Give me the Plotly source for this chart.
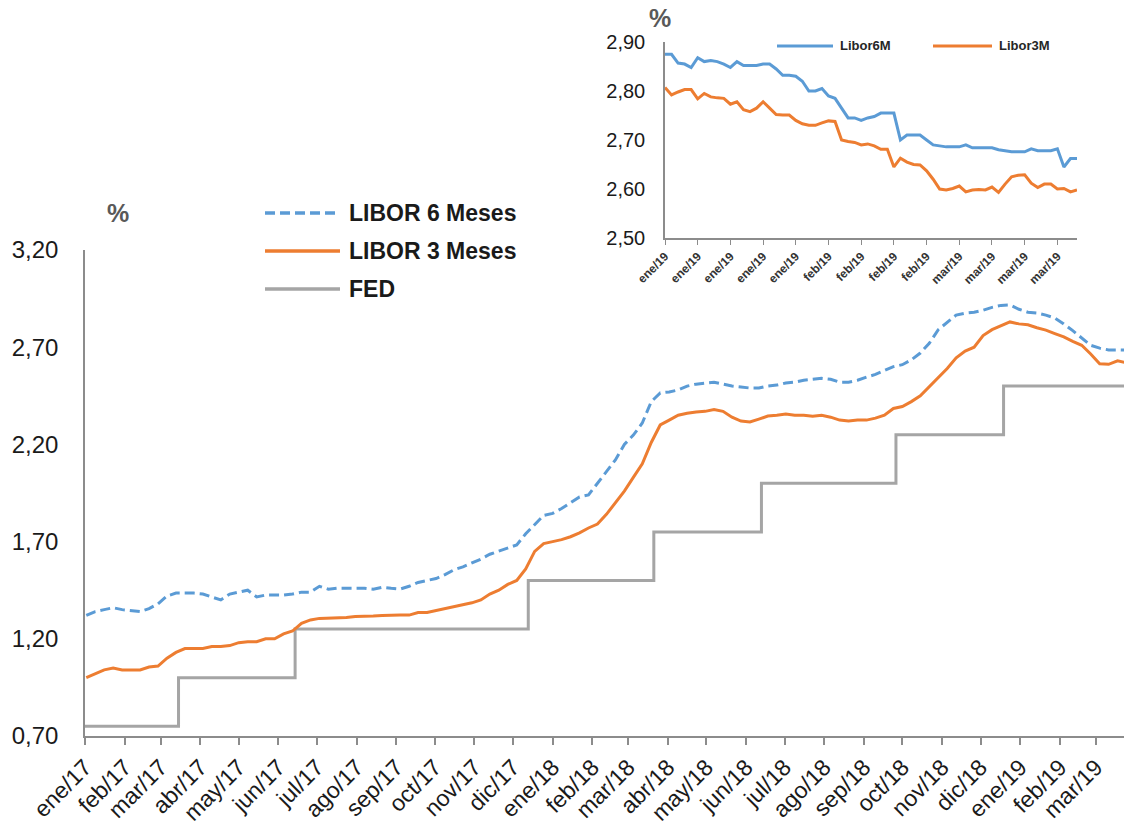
import pandas as pd
import plotly.graph_objects as go

W, H = 1124, 827

# --- Weekly series (Mondays), % -------------------------------------------
semanas = pd.date_range("2017-01-02", "2019-03-25", freq="W-MON")

libor_6m = [
    # 2017
    1.32, 1.34, 1.35, 1.36, 1.35,
    1.345, 1.34, 1.355, 1.38,
    1.42, 1.435, 1.435, 1.435,
    1.43, 1.415, 1.40, 1.43,
    1.44, 1.45, 1.415, 1.425, 1.425,
    1.425, 1.43, 1.44, 1.44,
    1.47, 1.455, 1.46, 1.46, 1.46,
    1.46, 1.455, 1.465, 1.46,
    1.456, 1.47, 1.49, 1.50,
    1.51, 1.53, 1.555, 1.57, 1.59,
    1.61, 1.635, 1.65, 1.665,
    1.683, 1.74, 1.79, 1.835,
    # 2018
    1.845, 1.87, 1.90, 1.93, 1.94,
    2.00, 2.06, 2.12, 2.20,
    2.248, 2.31, 2.42, 2.465,
    2.47, 2.48, 2.50, 2.51, 2.515,
    2.52, 2.51, 2.50, 2.495,
    2.49, 2.49, 2.50, 2.505,
    2.516, 2.52, 2.53, 2.535, 2.54,
    2.535, 2.52, 2.52, 2.53,
    2.546, 2.56, 2.58, 2.60,
    2.61, 2.635, 2.67, 2.72, 2.79,
    2.83, 2.865, 2.875, 2.88,
    2.89, 2.905, 2.915, 2.917, 2.895,
    # 2019
    2.88, 2.876, 2.865, 2.85,
    2.82, 2.785, 2.745, 2.71,
    2.695, 2.686, 2.686, 2.685,
]

libor_3m = [
    # 2017
    1.00, 1.02, 1.04, 1.05, 1.04,
    1.04, 1.04, 1.055, 1.06,
    1.10, 1.13, 1.15, 1.15,
    1.15, 1.16, 1.16, 1.165,
    1.18, 1.185, 1.185, 1.20, 1.20,
    1.225, 1.24, 1.28, 1.297,
    1.305, 1.307, 1.307, 1.31, 1.315,
    1.315, 1.317, 1.32, 1.322,
    1.322, 1.322, 1.335, 1.335,
    1.345, 1.357, 1.365, 1.374, 1.385,
    1.40, 1.43, 1.45, 1.48,
    1.50, 1.56, 1.65, 1.69,
    # 2018
    1.70, 1.71, 1.725, 1.745, 1.77,
    1.79, 1.84, 1.90, 1.96,
    2.03, 2.10, 2.21, 2.30,
    2.325, 2.35, 2.36, 2.367, 2.37,
    2.38, 2.37, 2.34, 2.32,
    2.315, 2.33, 2.346, 2.35,
    2.356, 2.35, 2.35, 2.345, 2.35,
    2.34, 2.325, 2.32, 2.325,
    2.325, 2.335, 2.35, 2.385,
    2.395, 2.42, 2.45, 2.495, 2.54,
    2.59, 2.645, 2.68, 2.70,
    2.76, 2.79, 2.81, 2.83, 2.82,
    # 2019
    2.815, 2.80, 2.788, 2.77,
    2.753, 2.73, 2.71, 2.665,
    2.615, 2.612, 2.63, 2.62,
]

# Fed funds target (upper bound) and the dates it changed
fed_fechas = ["2017-01-01", "2017-03-15", "2017-06-14", "2017-12-13",
              "2018-03-21", "2018-06-13", "2018-09-26", "2018-12-19",
              "2019-03-29"]
fed_tasa = [0.75, 1.00, 1.25, 1.50, 1.75, 2.00, 2.25, 2.50, 2.50]

meses_ticks = pd.date_range("2017-01-01", "2019-03-01", freq="MS")
meses_texto = [
    "ene/17", "feb/17", "mar/17", "abr/17", "may/17", "jun/17",
    "jul/17", "ago/17", "sep/17", "oct/17", "nov/17", "dic/17",
    "ene/18", "feb/18", "mar/18", "abr/18", "may/18", "jun/18",
    "jul/18", "ago/18", "sep/18", "oct/18", "nov/18", "dic/18",
    "ene/19", "feb/19", "mar/19",
]
y_ticks = [0.70, 1.20, 1.70, 2.20, 2.70, 3.20]

# --- Daily detail, first quarter 2019 --------------------------------------
ins_libor6m = [
    2.875, 2.875, 2.857, 2.855, 2.848, 2.868, 2.860, 2.862, 2.860, 2.855,
    2.848, 2.860, 2.852, 2.852, 2.852, 2.855, 2.855, 2.845, 2.832, 2.832,
    2.830, 2.820, 2.800, 2.800, 2.805, 2.790, 2.785, 2.765, 2.745, 2.745,
    2.740, 2.745, 2.748, 2.755, 2.755, 2.755, 2.700, 2.710, 2.710, 2.710,
    2.700, 2.690, 2.688, 2.686, 2.686, 2.686, 2.690, 2.684, 2.684, 2.684,
    2.684, 2.680, 2.678, 2.676, 2.676, 2.676, 2.682, 2.678, 2.678, 2.678,
    2.682, 2.645, 2.662, 2.662,
]
ins_libor3m = [
    2.807, 2.792, 2.798, 2.803, 2.803, 2.784, 2.795, 2.788, 2.786, 2.785,
    2.773, 2.778, 2.762, 2.758, 2.765, 2.778, 2.765, 2.752, 2.751, 2.751,
    2.740, 2.733, 2.730, 2.730, 2.735, 2.739, 2.738, 2.700, 2.697, 2.695,
    2.690, 2.692, 2.688, 2.681, 2.681, 2.645, 2.663, 2.655, 2.650, 2.649,
    2.637, 2.620, 2.600, 2.598, 2.601, 2.606, 2.594, 2.598, 2.599, 2.598,
    2.604, 2.593, 2.610, 2.625, 2.628, 2.629, 2.612, 2.603, 2.610, 2.610,
    2.600, 2.601, 2.594, 2.598,
]
ins_fechas = [d.strftime("%Y-%m-%d") for d in pd.bdate_range("2019-01-02", periods=len(ins_libor6m))]
ins_tick_texto = ["ene/19"] * 5 + ["feb/19"] * 4 + ["mar/19"] * 4
ins_y_ticks = [2.50, 2.60, 2.70, 2.80, 2.90]

AZUL = "#5B9BD5"
NARANJA = "#ED7D31"
GRIS = "#A5A5A5"
EJE = "#8C8C8C"
TEXTO = "#1a1a1a"
FUENTE = "Liberation Sans, Arial, sans-serif"


def px(x):
    return x / W


def py(y):
    return (H - y) / H


fig = go.Figure()

fig.add_trace(go.Scatter(x=fed_fechas, y=fed_tasa, mode="lines", line_shape="hv",
                         line=dict(color=GRIS, width=3), name="FED"))
fig.add_trace(go.Scatter(x=semanas, y=libor_3m, mode="lines",
                         line=dict(color=NARANJA, width=3), name="LIBOR 3 Meses"))
fig.add_trace(go.Scatter(x=semanas, y=libor_6m, mode="lines",
                         line=dict(color=AZUL, width=3, dash="10px,5px"), name="LIBOR 6 Meses"))

fig.add_trace(go.Scatter(x=ins_fechas, y=ins_libor6m, mode="lines", xaxis="x2", yaxis="y2",
                         line=dict(color=AZUL, width=3), name="Libor6M"))
fig.add_trace(go.Scatter(x=ins_fechas, y=ins_libor3m, mode="lines", xaxis="x2", yaxis="y2",
                         line=dict(color=NARANJA, width=3), name="Libor3M"))

fig.update_layout(
    width=W, height=H,
    margin=dict(l=0, r=0, t=0, b=0),
    paper_bgcolor="white", plot_bgcolor="rgba(0,0,0,0)",
    separators=",.",
    showlegend=False,
    font=dict(family=FUENTE, color=TEXTO),
    xaxis=dict(
        domain=[px(85), 1.0], anchor="y", type="date",
        range=["2017-01-01", "2019-03-23"],
        tickvals=meses_ticks, ticktext=meses_texto, tickangle=-45,
        tickfont=dict(size=23, color=TEXTO),
        ticks="outside", ticklen=7, tickwidth=1.5, tickcolor=EJE,
        showline=True, linecolor=EJE, linewidth=1.5,
        showgrid=False, zeroline=False, automargin=False,
    ),
    yaxis=dict(
        domain=[py(736), py(250)], anchor="x",
        range=[0.70, 3.20], tickvals=y_ticks, tickformat=".2f",
        tickfont=dict(size=24, color=TEXTO), ticks="", ticklabelstandoff=20,
        showline=True, linecolor=EJE, linewidth=1.5,
        showgrid=False, zeroline=False, automargin=False,
    ),
    xaxis2=dict(
        domain=[px(665), px(1077)], anchor="y2", type="category",
        range=[0, len(ins_fechas) - 1],
        tickvals=ins_fechas[::5], ticktext=[f"<b>{t}</b>" for t in ins_tick_texto], tickangle=-45,
        tickfont=dict(size=12, color="#333333"),
        ticks="outside", ticklen=5, tickwidth=1.2, tickcolor=EJE,
        showline=True, linecolor=EJE, linewidth=1.5,
        showgrid=False, zeroline=False, automargin=False,
    ),
    yaxis2=dict(
        domain=[py(238), py(42)], anchor="x2",
        range=[2.50, 2.90], tickvals=ins_y_ticks, tickformat=".2f",
        tickfont=dict(size=20, color=TEXTO), ticks="", ticklabelstandoff=14,
        showline=True, linecolor=EJE, linewidth=1.5,
        showgrid=False, zeroline=False, automargin=False,
    ),
)

# Unit labels
for ux, uy in [(118, 213), (660, 18)]:
    fig.add_annotation(x=px(ux), y=py(uy), xref="paper", yref="paper", text="<b>%</b>",
                       xanchor="center", yanchor="middle", showarrow=False,
                       font=dict(size=25, color="#595959"))

# Main legend
leyenda = [
    ("LIBOR 6 Meses", AZUL, "10px,5px", 213),
    ("LIBOR 3 Meses", NARANJA, "solid", 251),
    ("FED", GRIS, "solid", 289),
]
for texto, color, dash, yy in leyenda:
    fig.add_shape(type="line", xref="paper", yref="paper",
                  x0=px(265), x1=px(340), y0=py(yy), y1=py(yy),
                  line=dict(color=color, width=3.5, dash=dash))
    fig.add_annotation(x=px(347), y=py(yy), xref="paper", yref="paper", text=f"<b>{texto}</b>",
                       xanchor="left", yanchor="middle", showarrow=False,
                       font=dict(size=23, color=TEXTO))

# Inset legend
for texto, color, x0, x1 in [("Libor6M", AZUL, 777, 833), ("Libor3M", NARANJA, 933, 992)]:
    fig.add_shape(type="line", xref="paper", yref="paper",
                  x0=px(x0), x1=px(x1), y0=py(46), y1=py(46),
                  line=dict(color=color, width=3))
    fig.add_annotation(x=px(x1 + 5), y=py(46), xref="paper", yref="paper", text=f"<b>{texto}</b>",
                       xanchor="left", yanchor="middle", showarrow=False,
                       font=dict(size=13, color="#262626"))

fig.write_html("out.html")
